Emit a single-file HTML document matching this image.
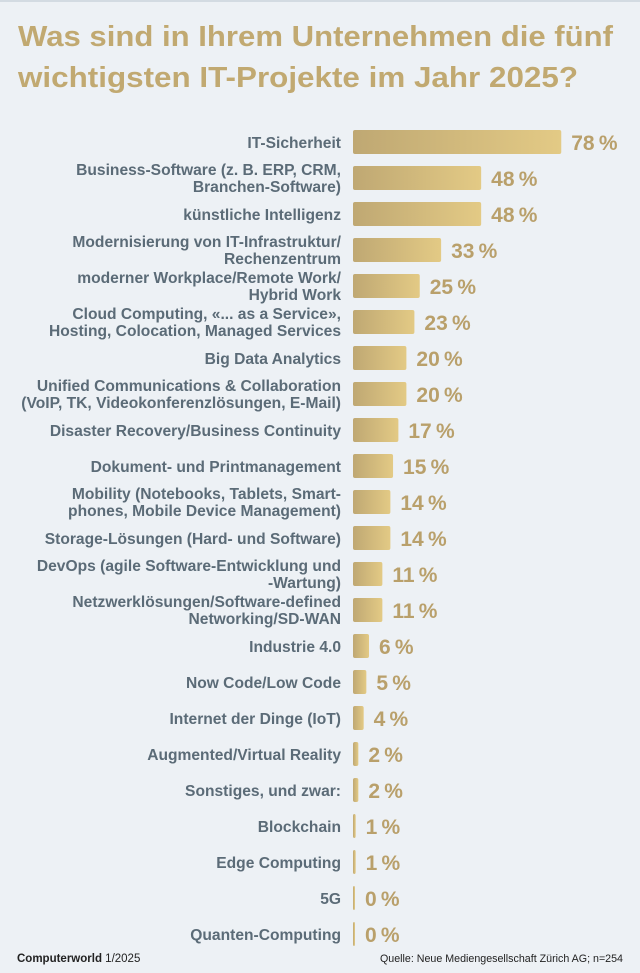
<!DOCTYPE html>
<html><head><meta charset="utf-8"><style>
html,body{margin:0;padding:0;background:#edf1f5;}
svg{display:block;}
.l{font-family:"Liberation Sans",sans-serif;font-weight:bold;font-size:15.6px;fill:#5b6b77;text-anchor:end;}
.v{font-family:"Liberation Sans",sans-serif;font-weight:bold;font-size:21px;fill:#b9a06b;}
</style></head><body>
<svg width="640" height="973" xmlns="http://www.w3.org/2000/svg">
<defs><linearGradient id="g" x1="0" x2="1" y1="0" y2="0"><stop offset="0" stop-color="#bfa873"/><stop offset="1" stop-color="#e3ca85"/></linearGradient></defs>
<rect x="0" y="0" width="640" height="973" fill="#edf1f5"/>
<rect x="0" y="0" width="640" height="2" fill="#d3dbe2"/>
<g font-family="Liberation Sans, sans-serif" font-weight="bold" font-size="29" fill="#c1a971">
<text x="18" y="46" textLength="595" lengthAdjust="spacingAndGlyphs">Was sind in Ihrem Unternehmen die fünf</text>
<text x="18" y="87" textLength="560" lengthAdjust="spacingAndGlyphs">wichtigsten IT-Projekte im Jahr 2025?</text>
</g>
<g id="rows"></g>
<text x="17" y="962" font-family="Liberation Sans, sans-serif" font-size="11.5" fill="#222"><tspan font-weight="bold">Computerworld</tspan> 1/2025</text>
<text x="623" y="962" text-anchor="end" font-family="Liberation Sans, sans-serif" font-size="11" fill="#222" textLength="243" lengthAdjust="spacingAndGlyphs">Quelle: Neue Mediengesellschaft Zürich AG; n=254</text>
</svg>
<script>
var d=[["IT-Sicherheit",78],["Business-Software (z. B. ERP, CRM,|Branchen-Software)",48],["künstliche Intelligenz",48],["Modernisierung von IT-Infrastruktur/|Rechenzentrum",33],["moderner Workplace/Remote Work/|Hybrid Work",25],["Cloud Computing, «... as a Service»,|Hosting, Colocation, Managed Services",23],["Big Data Analytics",20],["Unified Communications & Collaboration|(VoIP, TK, Videokonferenzlösungen, E-Mail)",20],["Disaster Recovery/Business Continuity",17],["Dokument- und Printmanagement",15],["Mobility (Notebooks, Tablets, Smart-|phones, Mobile Device Management)",14],["Storage-Lösungen (Hard- und Software)",14],["DevOps (agile Software-Entwicklung und|-Wartung)",11],["Netzwerklösungen/Software-defined|Networking/SD-WAN",11],["Industrie 4.0",6],["Now Code/Low Code",5],["Internet der Dinge (IoT)",4],["Augmented/Virtual Reality",2],["Sonstiges, und zwar:",2],["Blockchain",1],["Edge Computing",1],["5G",0],["Quanten-Computing",0]];
var s="",k=2.67,x0=353;
d.forEach(function(r,i){var c=142+36*i;var p=r[0].split("|");
function e(t){return t.replace(/&/g,"&amp;");}
if(p.length==1)s+='<text class="l" x="341" y="'+(c+6)+'">'+e(p[0])+'</text>';
else{s+='<text class="l" x="341" y="'+(c-3)+'">'+e(p[0])+'</text><text class="l" x="341" y="'+(c+14)+'">'+e(p[1])+'</text>';}
var w=Math.max(r[1]*k,2);
s+='<rect x="'+x0+'" y="'+(c-12)+'" width="'+w+'" height="24" rx="2" fill="url(#g)"/>';
s+='<text class="v" x="'+(x0+w+10)+'" y="'+(c+8)+'">'+r[1]+'\u2009%</text>';});
document.getElementById("rows").innerHTML=s;
</script>
</body></html>
